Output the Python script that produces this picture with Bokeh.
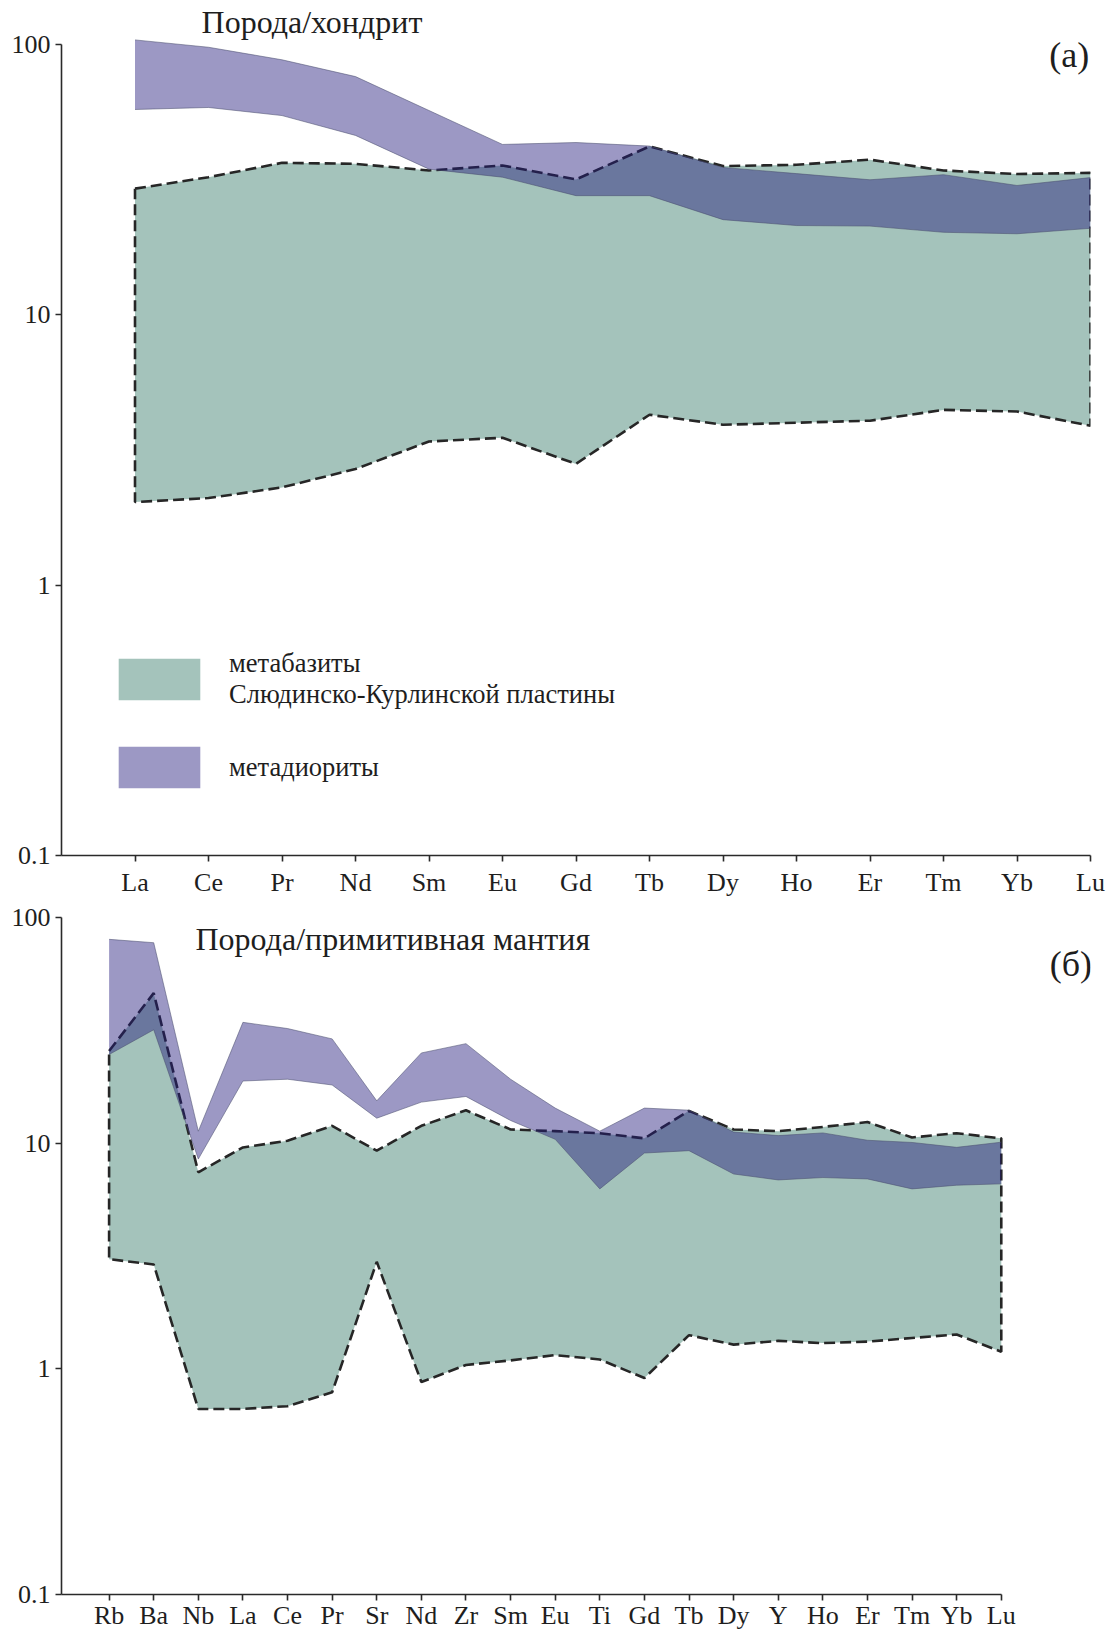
import numpy as np
from bokeh.plotting import figure
from bokeh.layouts import column
from bokeh.models import Range1d, FixedTicker, Label, Legend, LegendItem
from bokeh.embed import file_html
from bokeh.resources import INLINE

# ---------------- data ----------------
# (a) chondrite-normalised REE
ree = ["La", "Ce", "Pr", "Nd", "Sm", "Eu", "Gd", "Tb", "Dy", "Ho", "Er", "Tm", "Yb", "Lu"]
a_basite_hi = [29.3, 32.3, 36.5, 36.2, 34.2, 35.7, 31.7, 42.0, 35.5, 35.9, 37.5, 34.2, 33.2, 33.5]
a_basite_lo = [2.03, 2.10, 2.30, 2.69, 3.40, 3.51, 2.81, 4.27, 3.92, 3.99, 4.06, 4.45, 4.39, 3.89]
a_diorite_hi = [104, 97.7, 87.8, 76.1, 57.0, 42.7, 43.4, 42.1, 35.1, 33.3, 31.6, 33.0, 30.1, 32.2]
a_diorite_lo = [57.5, 58.5, 54.6, 46.1, 34.6, 32.3, 27.6, 27.6, 22.5, 21.4, 21.3, 20.2, 19.95, 20.9]

# (b) primitive-mantle-normalised spider diagram
spider = ["Rb", "Ba", "Nb", "La", "Ce", "Pr", "Sr", "Nd", "Zr", "Sm", "Eu", "Ti",
          "Gd", "Tb", "Dy", "Y", "Ho", "Er", "Tm", "Yb", "Lu"]
b_basite_hi = [25.6, 46.2, 7.43, 9.57, 10.25, 11.93, 9.26, 11.93, 13.98, 11.5, 11.3, 11.07,
               10.5, 13.9, 11.5, 11.3, 11.8, 12.4, 10.6, 11.07, 10.5]
b_basite_lo = [3.06, 2.90, 0.664, 0.664, 0.683, 0.787, 2.98, 0.874, 1.04, 1.09, 1.15, 1.10,
               0.91, 1.41, 1.28, 1.33, 1.30, 1.32, 1.37, 1.42, 1.19]
b_diorite_hi = [80.0, 77.3, 11.3, 34.3, 32.2, 28.97, 15.4, 25.1, 27.6, 19.2, 14.3, 11.3,
                14.3, 14.0, 11.2, 10.8, 11.1, 10.3, 10.07, 9.58, 10.1]
b_diorite_lo = [24.7, 31.8, 8.5, 18.85, 19.2, 18.1, 12.9, 15.2, 16.1, 12.6, 10.4, 6.27,
                9.04, 9.26, 7.3, 6.87, 7.04, 6.94, 6.27, 6.51, 6.6]

y_ticks = [0.1, 1, 10, 100]
y_tick_labels = ["0.1", "1", "10", "100"]

# ---------------- style ----------------
FONT = "Liberation Serif"
TXT = "#1e1e1e"
GREEN = "#a4c3bb"
PURPLE = "#231a7c"
PURPLE_ALPHA = 0.45
DASH_COLOR = "#262626"
W = 1112
LEFT, RIGHT = 61, 22


def make_panel(names, b_hi, b_lo, d_hi, d_lo, height, bottom, standoff, x_rng, y_top):
    n = len(names)
    x = np.arange(n)
    p = figure(width=W, height=height, x_range=Range1d(*x_rng),
               y_range=Range1d(0.1, y_top), y_axis_type="log",
               output_backend="svg", toolbar_location=None,
               min_border_left=LEFT, min_border_right=RIGHT,
               min_border_top=0, min_border_bottom=bottom)
    p.title.visible = False
    p.outline_line_color = None
    p.xgrid.visible = False
    p.ygrid.visible = False
    p.background_fill_color = "white"
    p.border_fill_color = "white"

    # metabasite field
    g = p.varea(x=x, y1=b_lo, y2=b_hi, fill_color=GREEN, fill_alpha=1.0)
    ox = np.concatenate([x, x[::-1], x[:1]])
    oy = np.concatenate([np.array(b_hi, float), np.array(b_lo, float)[::-1],
                         np.array(b_hi[:1], float)])
    p.line(ox, oy, line_color=DASH_COLOR, line_width=2.6, line_dash="11 5")

    # metadiorite field
    d = p.varea(x=x, y1=d_lo, y2=d_hi, fill_color=PURPLE, fill_alpha=PURPLE_ALPHA)
    p.line(x, d_hi, line_color="#4a4f6e", line_width=0.9, line_alpha=0.6)
    p.line(x, d_lo, line_color="#4a4f6e", line_width=0.9, line_alpha=0.6)

    # axes
    xa = p.xaxis[0]
    xa.ticker = FixedTicker(ticks=list(range(n)))
    xa.major_label_overrides = {i: nm for i, nm in enumerate(names)}
    xa.bounds = (x_rng[0], n - 1)
    xa.minor_tick_line_color = None
    xa.major_tick_in = 0
    xa.major_tick_out = 6
    xa.major_label_standoff = standoff
    ya = p.yaxis[0]
    ya.ticker = FixedTicker(ticks=y_ticks)
    ya.major_label_overrides = {t: l for t, l in zip(y_ticks, y_tick_labels)}
    ya.bounds = (0.1, 100)
    ya.minor_tick_line_color = None
    ya.major_tick_in = 0
    ya.major_tick_out = 6
    ya.major_label_standoff = 5
    for ax in (xa, ya):
        ax.axis_line_color = "#2a2a2a"
        ax.axis_line_width = 1.6
        ax.major_tick_line_color = "#2a2a2a"
        ax.major_tick_line_width = 1.6
        ax.major_label_text_font = FONT
        ax.major_label_text_font_size = "26px"
        ax.major_label_text_color = TXT
    return p, g, d


# ---------------- panel (a) ----------------
pa, ga, da = make_panel(ree, a_basite_hi, a_basite_lo, a_diorite_hi, a_diorite_lo,
                        height=901, bottom=46, standoff=6,
                        x_rng=(-1, 13), y_top=145.5)
pa.add_layout(Label(x=0.905, y=121.6, text="Порода/хондрит", text_font=FONT,
                    text_font_size="32px", text_color=TXT, text_baseline="middle"))
pa.add_layout(Label(x=12.71, y=91.8, text="(a)", text_font=FONT, text_font_size="36px",
                    text_color=TXT, text_align="center", text_baseline="middle"))

legend = Legend(items=[
    LegendItem(label="метабазиты\nСлюдинско-Курлинской пластины", renderers=[ga]),
    LegendItem(label="метадиориты", renderers=[da]),
], location=(47, 62), orientation="vertical")
legend.background_fill_alpha = 0
legend.border_line_color = None
legend.padding = 0
legend.margin = 0
legend.spacing = 31
legend.glyph_width = 102
legend.glyph_height = 52
legend.label_standoff = 19
legend.label_text_font = FONT
legend.label_text_font_size = "26.5px"
legend.label_text_color = TXT
legend.label_height = 52
pa.add_layout(legend)

# ---------------- panel (b) ----------------
pb, gb, db = make_panel(spider, b_basite_hi, b_basite_lo, b_diorite_hi, b_diorite_lo,
                        height=732, bottom=39, standoff=0,
                        x_rng=(-1.067, 22.0), y_top=117.7)
pb.add_layout(Label(x=1.937, y=79.9, text="Порода/примитивная мантия", text_font=FONT,
                    text_font_size="32px", text_color=TXT, text_baseline="middle"))
pb.add_layout(Label(x=21.56, y=62.5, text="(б)", text_font=FONT, text_font_size="36px",
                    text_color=TXT, text_align="center", text_baseline="middle"))

layout = column(pa, pb, spacing=0)
open("out.html", "w").write(file_html(layout, INLINE))
